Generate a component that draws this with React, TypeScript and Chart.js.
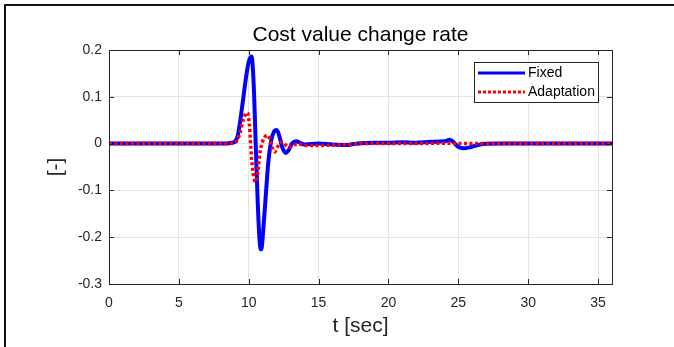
import React, { useEffect, useRef } from "react";
import { Chart, registerables } from "chart.js";

Chart.register(...registerables);

const chartTitle = "Cost value change rate";
const xTitle = "t [sec]";
const yTitle = "[-]";
const xTickValues = [0, 5, 10, 15, 20, 25, 30, 35];
const yTickValues = [-0.3, -0.2, -0.1, 0, 0.1, 0.2];

const fixedLabel = "Fixed";
const fixedT = [0, 8.0, 8.8, 9.0, 9.2, 9.4, 9.6, 9.8, 10.0, 10.2, 10.35, 10.5, 10.65, 10.8, 10.9, 11.0, 11.2, 11.4, 11.6, 11.8, 12.0, 12.2, 12.4, 12.66, 12.9, 13.1, 13.4, 13.7, 14.0, 15, 16, 17, 17.5, 18, 19, 20, 21, 22, 23, 24, 24.4, 24.7, 25.0, 25.4, 25.8, 26.3, 26.8, 28, 36];
const fixedV = [0, 0, 0.002, 0.004, 0.015, 0.05, 0.095, 0.14, 0.175, 0.186, 0.13, 0.0, -0.13, -0.215, -0.226, -0.2, -0.12, -0.04, 0.005, 0.025, 0.029, 0.015, -0.008, -0.02, -0.012, 0.0, 0.005, 0.001, -0.002, 0.0, -0.002, -0.003, -0.001, 0.001, 0.002, 0.002, 0.003, 0.002, 0.004, 0.005, 0.008, 0.002, -0.007, -0.01, -0.008, -0.004, -0.001, 0, 0];

const adaptLabel = "Adaptation";
const adaptT = [0, 8.8, 9.0, 9.2, 9.4, 9.6, 9.9, 10.05, 10.2, 10.35, 10.5, 10.65, 10.8, 11.0, 11.2, 11.35, 11.55, 11.7, 11.87, 12.05, 12.2, 12.4, 12.65, 12.9, 13.2, 13.6, 14, 15, 16, 17, 18, 20, 22, 24, 25, 36];
const adaptV = [0, 0, 0.002, 0.008, 0.025, 0.05, 0.066, 0.04, -0.03, -0.07, -0.082, -0.06, -0.02, 0.005, 0.016, 0.018, 0.005, -0.01, -0.018, -0.008, 0.0, 0.003, -0.003, -0.008, -0.003, -0.001, -0.004, -0.004, -0.003, -0.002, 0.0, 0.0, 0.0, 0.001, 0.0, 0];

const FONT = "'Liberation Sans', Arial, sans-serif";

export default function App() {
  const ref = useRef<HTMLCanvasElement | null>(null);

  useEffect(() => {
    document.body.style.margin = "0";
    const canvas = ref.current;
    if (!canvas) return;

    const decor = {
      id: "decor",
      beforeDraw(chart: any) {
        const ctx = chart.ctx;
        ctx.save();
        ctx.fillStyle = "#ffffff";
        ctx.fillRect(0, 0, chart.width, chart.height);
        ctx.restore();
      },
      afterDatasetsDraw(chart: any) {
        const ctx = chart.ctx;
        const a = chart.chartArea;
        const xs = chart.scales.x;
        const ys = chart.scales.y;
        ctx.save();
        // axes box
        ctx.strokeStyle = "#262626";
        ctx.lineWidth = 1;
        ctx.strokeRect(Math.round(a.left) + 0.5, Math.round(a.top) + 0.5, Math.round(a.right - a.left), Math.round(a.bottom - a.top));
        // inward ticks
        const tl = 5;
        ctx.beginPath();
        xTickValues.forEach((v) => {
          const px = Math.round(xs.getPixelForValue(v)) + 0.5;
          ctx.moveTo(px, a.bottom);
          ctx.lineTo(px, a.bottom - tl);
          ctx.moveTo(px, a.top);
          ctx.lineTo(px, a.top + tl);
        });
        yTickValues.forEach((v) => {
          const py = Math.round(ys.getPixelForValue(v)) + 0.5;
          ctx.moveTo(a.left, py);
          ctx.lineTo(a.left + tl, py);
          ctx.moveTo(a.right, py);
          ctx.lineTo(a.right - tl, py);
        });
        ctx.stroke();

        // legend
        const lx = 474, ly = 62, lw = 124, lh = 40;
        ctx.fillStyle = "#ffffff";
        ctx.fillRect(lx, ly, lw, lh);
        ctx.strokeStyle = "#262626";
        ctx.lineWidth = 1;
        ctx.strokeRect(lx + 0.5, ly + 0.5, lw, lh);
        ctx.lineWidth = 3;
        ctx.strokeStyle = "#0000ff";
        ctx.beginPath();
        ctx.moveTo(478, 73);
        ctx.lineTo(525, 73);
        ctx.stroke();
        ctx.strokeStyle = "#ff0000";
        ctx.setLineDash([3, 2]);
        ctx.beginPath();
        ctx.moveTo(478, 92);
        ctx.lineTo(525, 92);
        ctx.stroke();
        ctx.setLineDash([]);
        ctx.fillStyle = "#000000";
        ctx.font = `14px ${FONT}`;
        ctx.textBaseline = "middle";
        ctx.textAlign = "left";
        ctx.fillText(fixedLabel, 528, 73);
        ctx.fillText(adaptLabel, 528, 92);

        // titles
        const cx = (a.left + a.right) / 2;
        ctx.textAlign = "center";
        ctx.fillStyle = "#000000";
        ctx.font = `21px ${FONT}`;
        ctx.textBaseline = "alphabetic";
        ctx.fillText(chartTitle, cx, 41);
        ctx.textBaseline = "middle";
        ctx.fillStyle = "#262626";
        ctx.font = `21px ${FONT}`;
        ctx.fillText(xTitle, cx, 326);
        ctx.save();
        ctx.translate(56, (a.top + a.bottom) / 2);
        ctx.rotate(-Math.PI / 2);
        ctx.fillText(yTitle, 0, 0);
        ctx.restore();

        // outer frame
        ctx.strokeStyle = "#111111";
        ctx.lineWidth = 2;
        ctx.beginPath();
        ctx.moveTo(5, chart.height);
        ctx.lineTo(5, 5);
        ctx.lineTo(chart.width, 5);
        ctx.stroke();
        ctx.restore();
      },
    };

    const chart = new Chart(canvas, {
      type: "line",
      data: {
        datasets: [
          {
            label: adaptLabel,
            data: adaptT.map((t, i) => ({ x: t, y: adaptV[i] })),
            borderColor: "#ff0000",
            borderWidth: 3.5,
            borderDash: [3, 2.5],
            pointRadius: 0,
            cubicInterpolationMode: "monotone",
            fill: false,
            order: 1,
          },
          {
            label: fixedLabel,
            data: fixedT.map((t, i) => ({ x: t, y: fixedV[i] })),
            borderColor: "#0000ff",
            borderWidth: 4,
            pointRadius: 0,
            cubicInterpolationMode: "monotone",
            fill: false,
            order: 2,
          },
        ],
      },
      options: {
        responsive: false,
        animation: false,
        devicePixelRatio: 1,
        layout: { padding: { left: 0, right: 62, top: 50, bottom: 0 } },
        plugins: {
          legend: { display: false },
          title: { display: false },
          tooltip: { enabled: false },
        },
        scales: {
          x: {
            type: "linear",
            min: 0,
            max: 36,
            ticks: {
              stepSize: 5,
              includeBounds: false,
              color: "#262626",
              font: { family: FONT, size: 14 },
              padding: 11,
              maxRotation: 0,
            },
            grid: { color: "#e3e3e3", drawTicks: false },
            border: { display: false },
            afterFit: (s: any) => {
              s.height = 63;
            },
          },
          y: {
            type: "linear",
            min: -0.3,
            max: 0.2,
            ticks: {
              stepSize: 0.1,
              color: "#262626",
              font: { family: FONT, size: 14 },
              padding: 7,
              callback: (v: any) => {
                const n = Number(Number(v).toFixed(1));
                return Math.abs(n) < 1e-9 ? "0" : String(n);
              },
            },
            grid: { color: "#e3e3e3", drawTicks: false },
            border: { display: false },
            afterFit: (s: any) => {
              s.width = 109;
            },
          },
        },
      },
      plugins: [decor],
    });
    return () => chart.destroy();
  }, []);

  return (
    <div style={{ position: "fixed", left: 0, top: 0, width: 674, height: 347 }}>
      <canvas ref={ref} width={674} height={347} />
    </div>
  );
}
